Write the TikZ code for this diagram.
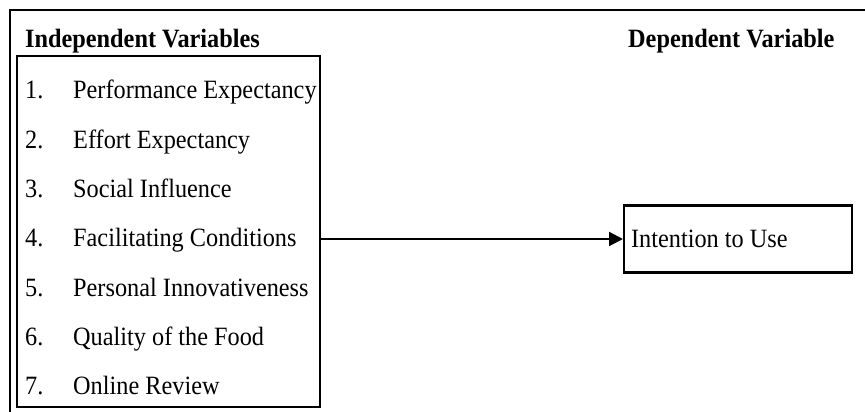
\documentclass[tikz,border=0pt]{standalone}
\usepackage{fontspec}
\setmainfont{Liberation Serif}[FakeStretch=0.92]
\usetikzlibrary{arrows.meta}
\begin{document}
\begin{tikzpicture}[x=1pt,y=1pt,
  every node/.style={font=\fontsize{26.4}{30}\selectfont},
  frame/.style={line width=2.2pt},
  lbl/.style={anchor=base west, inner sep=0pt},
  head/.style={lbl, font=\fontsize{26.4}{30}\selectfont\bfseries},
  boxline/.style={draw, line width=2.2pt},
  conn/.style={line width=2.2pt, -{Triangle[length=14pt,width=14pt]}}]
\useasboundingbox (0,0) rectangle (865,-412);
% outer frame (top and left)
\draw[frame] (865,-10) -- (10,-10) -- (10,-412);
% headings
\node[head] (ivh) at (25,-48) {Independent Variables};
\node[head] (dvh) at (628,-48) {Dependent Variable};
% independent variables box
\node[boxline, anchor=north west, minimum width=303pt, minimum height=351pt, inner sep=0pt] (ivbox) at (16,-55) {};
\foreach \n/\t [count=\i from 0] in {1/Performance Expectancy,2/Effort Expectancy,3/Social Influence,4/Facilitating Conditions,5/Personal Innovativeness,6/Quality of the Food,7/Online Review}{
  \node[lbl] (num\n) at (25,{-99-49.3*\i}) {\n.};
  \node[lbl] (item\n) at (73,{-99-49.3*\i}) {\t};
}
% dependent variable box
\node[boxline, anchor=west, minimum height=67pt, inner xsep=7pt] (dv) at (623,-239) {\makebox[214pt][l]{Intention to Use}};
% connector
\draw[conn] (ivbox.east |- dv.west) -- (dv.west);
\end{tikzpicture}
\end{document}
